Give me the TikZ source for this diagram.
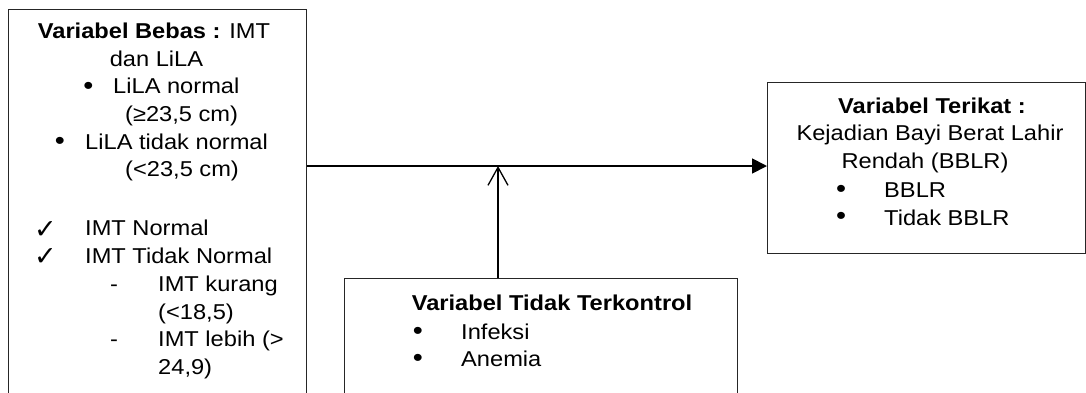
\documentclass[tikz,border=0pt]{standalone}
\usepackage{fontspec}
\setmainfont{Liberation Sans}[FakeStretch=1.1]
\newfontfamily\symfont{DejaVu Sans}
\usetikzlibrary{arrows.meta}
\begin{document}
\begin{tikzpicture}[x=1pt,y=-1pt,
  box/.style={draw=black!85,line width=1pt,inner sep=0pt,anchor=north west},
  lt/.style={anchor=base west,inner sep=0pt,font=\fontsize{21.5}{26}\selectfont},
  ct/.style={anchor=base,inner sep=0pt,font=\fontsize{21.5}{26}\selectfont},
  bul/.style={anchor=center,inner sep=0pt,font=\fontsize{26}{30}\selectfont},
  chk/.style={anchor=center,inner sep=0pt,font=\symfont\fontsize{27}{30}\selectfont},
  mainarrow/.style={line width=1.8pt,-{Triangle[length=15pt,width=15pt]}},
  modarrow/.style={line width=1.3pt,-{Straight Barb[length=18pt,width=20pt,line width=1.3pt]}}]
\useasboundingbox (0,0) rectangle (1086,392);
\clip (0,0) rectangle (1086,392);
\fill[white] (0,0) rectangle (1086,392);
% boxes
\node[box,minimum width=298pt,minimum height=400pt] (bebas) at (8,9) {};
\node[box,minimum width=318pt,minimum height=171pt] (terikat) at (767,82) {};
\node[box,minimum width=393pt,minimum height=130pt] (kontrol) at (344,278) {};
% connectors
\coordinate (j) at (498,166);
\draw[mainarrow] (bebas.east |- j) -- (terikat.west |- j);
\draw[modarrow] (kontrol.north -| j) -- (j);
% left text
\node[ct] (b1) at (154,38.3) {\textbf{Variabel Bebas :} IMT};
\node[ct] (b2) at (156.5,66) {dan LiLA};
\node[bul] (b3d) at (88.5,88) {•};
\node[lt] (b3) at (113,93.7) {LiLA normal};
\node[lt] (b4) at (125,121.4) {(≥23,5 cm)};
\node[bul] (b5d) at (60,143.5) {•};
\node[lt] (b5) at (85,149.1) {LiLA tidak normal};
\node[lt] (b6) at (125,176.8) {(<23,5 cm)};
\node[chk] (b7d) at (45.5,229.5) {✓};
\node[lt] (b7) at (85,235.5) {IMT Normal};
\node[chk] (b8d) at (45.5,257) {✓};
\node[lt] (b8) at (85,263) {IMT Tidak Normal};
\node[lt] (b9d) at (110,291.5) {-};
\node[lt] (b9) at (158,291.5) {IMT kurang};
\node[lt] (b10) at (158,319) {(<18,5)};
\node[lt] (b11d) at (110,346.5) {-};
\node[lt] (b11) at (158,346.5) {IMT lebih (>};
\node[lt] (b12) at (158,374) {24,9)};
% right text
\node[ct] (t1) at (932,113.3) {\textbf{Variabel Terikat :}};
\node[ct] (t2) at (930,140.7) {Kejadian Bayi Berat Lahir};
\node[ct] (t3) at (925,168.3) {Rendah (BBLR)};
\node[bul] (t4d) at (841,191.5) {•};
\node[lt] (t4) at (884,197.5) {BBLR};
\node[bul] (t5d) at (841,218.5) {•};
\node[lt] (t5) at (884,225) {Tidak BBLR};
% bottom text
\node[ct] (k1) at (552,310) {\textbf{Variabel Tidak Terkontrol}};
\node[bul] (k2d) at (418,333) {•};
\node[lt] (k2) at (461,339) {Infeksi};
\node[bul] (k3d) at (418,360.5) {•};
\node[lt] (k3) at (461,366.5) {Anemia};
\end{tikzpicture}
\end{document}
